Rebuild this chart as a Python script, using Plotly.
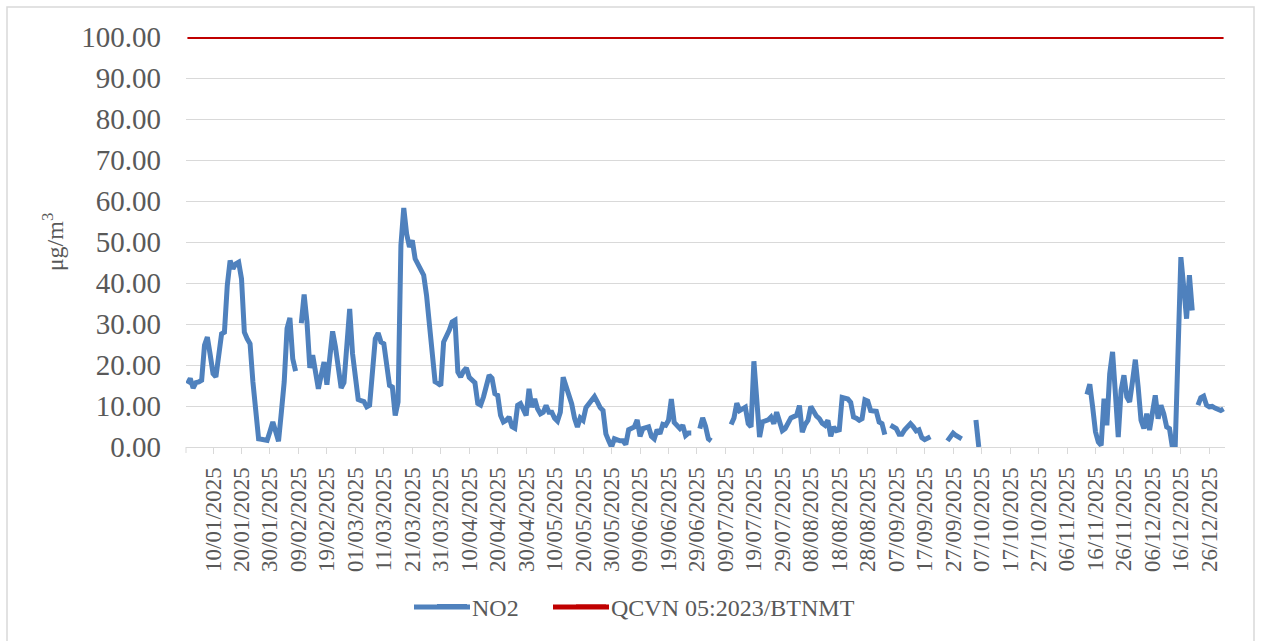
import pandas as pd
import plotly.graph_objects as go

# ---- data -------------------------------------------------------------
dates = pd.date_range("2025-01-01", "2025-12-31", freq="D").strftime("%d/%m/%Y").tolist()

N = None
no2 = [
    15.4, 16.7, 14.4, 15.7, 15.9, 16.3, 24.8, 26.8, 22.5, 17.9,
    17.1, 22.0, 27.6, 28.0, 39.4, 45.5, 43.5, 44.7, 45.1, 41.0,
    28.0, 26.4, 25.2, 15.9, 8.5, 2.0, 1.9, 1.9, 1.6, 3.8,
    6.1, 3.8, 1.4, 8.5, 15.9, 28.9, 31.5, 21.5, 18.5, N,
    30.2, 37.2, 30.5, 19.3, 22.4, 18.3, 14.2, 17.5, 20.7, 15.2,
    21.7, 28.2, 24.4, 19.4, 14.4, 15.7, 24.7, 33.7, 22.8, 17.2,
    11.6, 11.3, 11.1, 9.8, 10.2, 18.3, 26.4, 27.8, 25.6, 25.2,
    20.0, 15.0, 14.6, 7.7, 11.0, 49.2, 58.3, 52.0, 48.8, 50.4,
    45.9, 44.7, 43.5, 41.9, 37.0, 30.0, 22.0, 15.9, 15.5, 15.0,
    25.6, 27.0, 28.5, 30.5, 30.9, 18.3, 17.1, 18.5, 19.3, 17.0,
    16.3, 15.7, 10.6, 10.2, 12.2, 15.0, 17.5, 16.8, 13.0, 12.6,
    7.7, 6.1, 6.5, 7.3, 5.0, 4.6, 10.2, 10.6, 9.0, 7.7,
    14.2, 9.7, 11.7, 9.3, 8.1, 8.5, 10.1, 8.5, 8.5, 7.0,
    6.3, 8.5, 17.0, 15.0, 12.5, 10.5, 7.0, 4.9, 7.1, 6.5,
    9.6, 10.5, 11.3, 12.3, 11.0, 9.6, 8.9, 3.2, 1.5, 0.0,
    2.0, 1.6, 1.5, 1.5, 0.6, 4.2, 4.5, 4.9, 6.6, 2.6,
    4.5, 4.8, 4.9, 2.6, 2.0, 4.2, 3.2, 5.5, 5.3, 6.5,
    11.7, 6.0, 5.3, 4.5, 5.3, 2.8, 3.4, 3.4, N, N,
    4.5, 7.1, 5.1, 2.0, 1.5, N, N, N, N, N,
    N, 5.5, 7.1, 10.7, 8.9, 9.3, 9.7, 5.7, 4.9, 20.9,
    11.0, 2.4, 6.1, 6.4, 6.6, 7.3, 5.7, 8.5, 6.5, 4.0,
    4.5, 6.1, 7.1, 7.4, 7.7, 10.1, 3.6, 5.5, 6.5, 9.9,
    8.5, 7.5, 6.9, 5.8, 5.3, 6.5, 2.6, 4.9, 4.0, 4.2,
    12.1, 11.8, 11.7, 10.9, 7.3, 7.0, 6.5, 6.9, 11.5, 11.2,
    8.9, 8.8, 8.7, 6.1, 5.7, 3.0, N, 5.3, 4.9, 4.5,
    3.1, 3.1, 4.2, 5.0, 5.7, 4.9, 3.9, 4.2, 2.3, 1.8,
    2.2, 2.5, N, N, N, N, N, 1.5, 2.6, 3.4,
    2.8, 2.4, 2.0, N, N, N, N, 6.6, 0.0, N,
    N, N, N, N, N, N, N, N, N, N,
    N, N, N, N, N, N, N, N, N, N,
    N, N, N, N, N, N, N, N, N, N,
    N, N, N, N, N, N, 12.8, 15.3, 9.8, 3.7,
    1.2, 0.4, 11.8, 5.3, 17.9, 23.2, 13.0, 2.4, 13.8, 17.5,
    12.2, 11.0, 16.0, 21.3, 14.6, 6.5, 4.5, 8.1, 4.1, 8.0,
    12.6, 6.9, 10.2, 8.1, 4.9, 4.5, 0.0, 0.0, 24.0, 46.3,
    39.0, 31.3, 41.9, 33.3, N, 10.2, 12.0, 12.4, 10.2, 9.8,
    9.9, 9.5, 9.3, 8.9, 9.3,
]

qcvn_limit = 100.0
qcvn = [qcvn_limit] * len(dates)

tick_dates = dates[9::10]
y_ticks = [0, 10, 20, 30, 40, 50, 60, 70, 80, 90, 100]

# ---- figure -----------------------------------------------------------
FONT = "Liberation Serif"
TXT = "#595959"
BLUE = "#4F81BD"
RED = "#C00000"

W, H = 1263, 641
L, R, T, B = 186, 38, 37, 194
PW, PH = W - L - R, H - T - B


def px_x(x):
    return (x - L) / PW


def px_y(y):
    return (H - B - y) / PH


fig = go.Figure()
fig.add_trace(go.Scatter(
    x=dates, y=no2, mode="lines", name="NO2",
    line=dict(color=BLUE, width=5), connectgaps=False, legend="legend",
))
fig.add_trace(go.Scatter(
    x=dates, y=qcvn, mode="lines", name="QCVN 05:2023/BTNMT",
    line=dict(color=RED, width=4), legend="legend2",
))

legend_y = 607
leg_common = dict(
    orientation="h", xanchor="left", yanchor="middle", y=px_y(legend_y),
    font=dict(family=FONT, size=24, color=TXT),
    itemwidth=30, bgcolor="rgba(0,0,0,0)",
)
fig.update_layout(
    width=W, height=H,
    margin=dict(l=L, r=R, t=T, b=B),
    paper_bgcolor="white", plot_bgcolor="white",
    font=dict(family=FONT, color=TXT),
    showlegend=True,
    legend=dict(x=px_x(432), **leg_common),
    legend2=dict(x=px_x(571), **leg_common),
)

fig.update_xaxes(
    type="category", categoryorder="array", categoryarray=dates,
    range=[-0.5, len(dates) - 0.5],
    tickmode="array", tickvals=tick_dates, ticktext=tick_dates,
    tickangle=-90, tickfont=dict(family=FONT, size=23, color=TXT),
    ticks="outside", ticklen=6, tickcolor="#D9D9D9", tickwidth=1,
    ticklabelstandoff=4,
    showline=True, linecolor="#D9D9D9", linewidth=1,
    showgrid=False, zeroline=False,
)
fig.update_yaxes(
    range=[0, 100], tickmode="array", tickvals=y_ticks,
    tickformat=".2f", tickfont=dict(family=FONT, size=29, color=TXT),
    showgrid=True, gridcolor="#D9D9D9", gridwidth=1,
    showline=False, zeroline=False, ticks="", ticklabelstandoff=24,
    title=dict(text="μg/m<sup>3</sup>", font=dict(family=FONT, size=24, color=TXT), standoff=10),
)

# chart-area border and left edge tick
fig.add_shape(type="rect", xref="paper", yref="paper",
              x0=px_x(7), x1=px_x(1254), y0=px_y(660), y1=px_y(7),
              line=dict(color="#D9D9D9", width=1.5), layer="below")
fig.add_shape(type="line", xref="paper", yref="paper",
              x0=0, x1=0, y0=0, y1=-6 / PH,
              line=dict(color="#D9D9D9", width=1))

# longer legend keys (as in the reference)
for x0, x1, col in [(414, 470, BLUE), (553, 609, RED)]:
    fig.add_shape(type="line", xref="paper", yref="paper",
                  x0=px_x(x0), x1=px_x(x1), y0=px_y(legend_y), y1=px_y(legend_y),
                  line=dict(color=col, width=5))

fig.write_html("out.html", config={"displayModeBar": False},
               post_script="document.body.style.margin='0';")
